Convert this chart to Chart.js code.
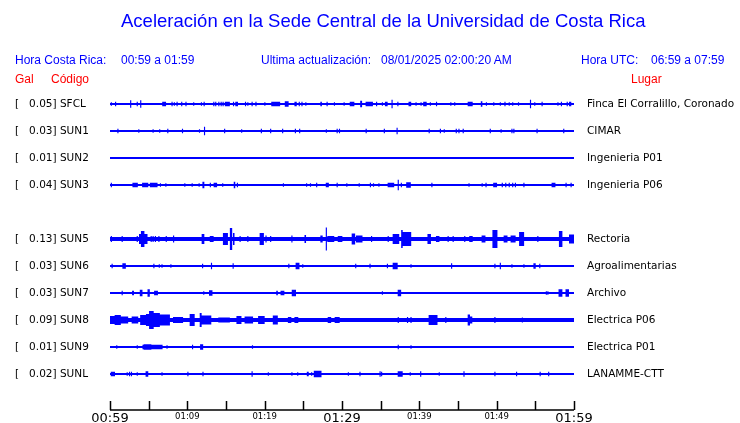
<!DOCTYPE html>
<html>
<head>
<meta charset="utf-8">
<script src="https://cdn.jsdelivr.net/npm/chart.js@4.4.0/dist/chart.umd.min.js"></script>
<style>
body { margin: 0; background: #fff; }
#wrap { position: relative; width: 740px; height: 423px; overflow: hidden; }
#chart { position: absolute; left: 0; top: 0; }
.t { position: absolute; white-space: pre; font-family: "Liberation Sans", Arial, sans-serif; font-size: 12px; line-height: 1; color: #0000ff; }
.r { color: #ff0000; }
</style>
</head>
<body>
<div id="wrap">
<canvas id="chart" width="740" height="423"></canvas>
<div class="t" style="left:121px;top:12px;font-size:18.5px">Aceleración en la Sede Central de la Universidad de Costa Rica</div>
<div class="t" style="left:15px;top:54px">Hora Costa Rica:</div>
<div class="t" style="left:121px;top:54px">00:59 a 01:59</div>
<div class="t" style="left:261px;top:54px">Ultima actualización:</div>
<div class="t" style="left:381px;top:54px">08/01/2025 02:00:20 AM</div>
<div class="t" style="left:581px;top:54px">Hora UTC:</div>
<div class="t" style="left:651px;top:54px">06:59 a 07:59</div>
<div class="t r" style="left:15px;top:73px">Gal</div>
<div class="t r" style="left:51px;top:73px">Código</div>
<div class="t r" style="left:631px;top:73px">Lugar</div>
</div>
<script>
// stations, top to bottom (row 4 is empty in the original)
const codes = ['SFCL', 'SUN1', 'SUN2', 'SUN3', 'SUN5', 'SUN6', 'SUN7', 'SUN8', 'SUN9', 'SUNL'];
const places = ['Finca El Corralillo, Coronado', 'CIMAR', 'Ingenieria P01', 'Ingenieria P06', 'Rectoria',
  'Agroalimentarias', 'Archivo', 'Electrica P06', 'Electrica P01', 'LANAMME-CTT'];
const galValues = [0.05, 0.03, 0.01, 0.04, 0.13, 0.03, 0.03, 0.09, 0.01, 0.02];
const rows = [0, 1, 2, 3, 5, 6, 7, 8, 9, 10];
const timeLabels = ['00:59', '01:09', '01:19', '01:29', '01:39', '01:49', '01:59'];
// continuous background noise amplitude of each trace
const noise = [0, 0, 0, 0, 2, 0, 0, 2, 0, 0];

// bursts: [minute after 00:59, amplitude, duration in minutes (default 0.15)]
const burstsSFCL = [[0.1,1],[0.65,1.5],[2.6,3],[3.45,1.5],[3.9,3],[6.75,1.5,0.5],[7.95,1.5],[8.25,1],[8.6,1.5],[9.2,1.5],[9.75,1.5],[10.75,1],[11.75,1],[12.1,1.5],[13.35,1.5],[13.6,1.5],[14.0,1.5],[14.3,1.5],[14.55,1.5],[14.85,1.5,0.65],[15.9,1.5],[16.2,1.5,0.35],[17.45,1.5],[17.75,1],[18.3,1.5],[18.8,1.5],[19.95,1],[20.85,1.5,1.15],[22.6,2,0.5],[23.85,1.5,0.3],[24.4,1.5],[24.75,1.5],[25.25,1],[27.2,1.5,0.2],[28.0,1.5],[28.95,1],[30.2,1],[31.0,1.5,0.6],[32.35,2.5,0.25],[33.05,1.5,0.95],[34.4,1.5],[35.15,1],[35.55,1.5,0.35],[36.4,3.5],[37.15,1.5],[38.6,1.5,0.35],[39.5,1],[40.15,1],[40.5,1.5,0.45],[41.35,1],[42.15,1.5],[44.0,1],[44.5,1],[46.25,1.5,0.65],[47.95,2,0.2],[48.6,1],[49.55,1],[50.4,1],[51.0,1.5],[51.55,1],[52.0,1],[52.75,1],[54.3,3.5],[54.85,1],[55.8,1.5],[57.85,1],[58.3,1.5],[59.05,1.5],[59.35,1.5,0.3]];
const burstsSUN1 = [[0.95,1.5],[3.65,1],[5.5,1],[6.35,1],[7.4,1.5],[9.3,1.5],[11.5,1],[12.15,3.5],[14.75,1.5],[16.95,1],[19.5,1.5],[20.7,1.5],[22.25,1.5],[23.9,1.5],[24.45,1.5],[27.9,1],[29.3,1.5],[29.6,1.5],[33.05,1.5],[35.4,1.5],[37.05,2.5],[41.2,1.5],[42.65,1.5],[43.15,1],[44.7,1.5],[45.05,1.5],[45.6,1.5],[49.1,1.5],[50.5,1],[51.9,1.5],[52.15,1.5],[55.15,1.5],[58.6,1.5]];
const burstsSUN2 = [];
const burstsSUN3 = [[0.1,1.5],[2.9,1.5,0.7],[4.15,1.5,0.8],[5.15,1.5,1.0],[6.45,1],[7.15,1],[9.6,1],[10.55,1],[11.45,1],[11.95,2.5,0.25],[12.9,1.5],[13.4,1.5,0.45],[14.5,1],[16.0,2.5,0.2],[16.4,1.5],[22.35,1],[25.35,1],[25.85,1],[26.65,1.5],[27.9,1.5,0.4],[29.3,1.5],[30.55,1],[32.15,1],[33.6,1.5],[34.0,1],[34.7,1],[35.9,1.5,0.85],[37.2,4.5],[37.6,1.5],[38.3,2,0.6],[41.55,1.5],[46.35,1],[48.05,1],[48.55,1.5],[49.55,1.5,0.5],[50.65,1.5],[51.1,1.5],[51.55,1.5],[52.0,1.5],[52.35,1.5],[53.45,1.5],[57.1,1.5,0.5],[58.9,1.5],[59.55,1.5]];
const burstsSUN5 = [[0.1,3],[1.5,3],[3.45,3],[3.75,5,0.25],[4.0,8,0.45],[4.45,5,0.4],[5.25,3],[5.5,3],[5.8,3],[6.25,3],[7.2,3],[8.15,3.5],[11.85,5,0.35],[12.9,3,0.5],[14.6,6,0.65],[15.5,11,0.3],[15.9,6,0.2],[16.75,3],[17.75,3],[19.35,6,0.55],[20.1,3.5],[20.7,3],[23.45,3.5],[25.15,4,0.2],[27.2,3.5,0.3],[27.9,11.5],[28.1,3,0.9],[29.45,3,0.45],[29.9,3],[31.25,5.5,0.45],[31.8,3.5,0.85],[33.75,3],[35.9,3],[36.55,5,0.85],[37.65,9,0.2],[37.85,7,1.1],[41.05,5,0.45],[42.15,3,0.45],[43.65,3],[44.3,3],[45.8,3],[46.45,3,0.45],[48.05,3.5,0.5],[49.45,9,0.65],[50.9,3.5,0.5],[51.8,3.5,0.65],[52.9,7,0.65],[55.25,3],[58.05,8,0.45],[59.35,4.5,0.65]];
const burstsSUN6 = [[0.2,1.5],[1.6,2,0.45],[5.6,1.5],[6.3,1],[6.65,1],[7.8,1],[11.9,1.5],[13.05,2.5],[15.85,2],[23.05,1.5],[24.0,2.5,0.5],[24.85,1],[31.7,1.5],[33.55,1.5],[35.8,1.5],[36.55,2.5,0.65],[38.85,1],[44.1,2],[49.7,1.5],[50.4,2.5],[51.9,1],[53.45,1],[54.75,2,0.3],[55.5,1.5]];
const burstsSUN7 = [[1.5,1.5],[2.85,1.5,0.25],[3.85,2.5,0.35],[4.85,3,0.3],[5.7,1.5,0.5],[12.05,1],[12.8,2,0.45],[21.5,1.5,0.2],[22.05,1.5,0.5],[23.5,2.5,0.55],[35.15,1],[37.2,2.5,0.45],[56.35,1],[56.55,1],[58.0,3,0.5],[58.9,3,0.45]];
const burstsSUN8 = [[0.0,4,0.6],[0.6,5,0.8],[1.4,3.5,0.95],[2.8,3.5,0.85],[3.9,5,0.75],[4.65,6,0.4],[5.05,9,0.6],[5.65,7,0.8],[6.45,5.5,1.3],[8.15,3,1.3],[10.3,6,0.65],[11.6,7,0.25],[11.85,4.5,1.25],[14.0,2.5,1.5],[16.35,4,0.65],[17.4,3.5,1.1],[19.15,4,0.85],[21.05,4.5,0.65],[23.0,3,0.45],[23.85,3,0.5],[28.15,3,0.45],[29.05,3,0.65],[37.2,3],[38.4,3],[38.85,3],[41.2,5,1.15],[43.35,3],[46.25,5.5,0.3],[46.55,3.5,0.3],[49.7,3],[53.25,2.5]];
const burstsSUN9 = [[0.8,1],[3.45,1],[4.2,1.5,0.15],[4.35,2,1.0],[5.35,1.5,1.45],[7.3,1],[10.6,1.5],[11.65,2,0.4],[18.35,1],[37.2,1.5],[38.85,1]];
const burstsSUNL = [[0.1,1.5,0.55],[2.15,1],[2.45,1.5],[2.7,1.5],[3.45,1],[4.6,2,0.35],[6.65,1],[10.0,1.5],[11.95,1.5],[18.3,2],[20.4,1],[23.45,1],[24.2,1],[25.45,1.5,0.25],[26.0,1],[26.35,2.5,1.0],[30.75,1],[32.25,1.5],[34.85,2],[35.05,1.5],[37.2,2,0.65],[38.75,1],[40.1,2],[42.5,1],[45.7,2],[49.7,1.5],[52.5,1.5],[55.55,1.5],[56.65,1.5]];
const bursts = [burstsSFCL, burstsSUN1, burstsSUN2, burstsSUN3, burstsSUN5, burstsSUN6, burstsSUN7, burstsSUN8, burstsSUN9, burstsSUNL];

const AMP_PER_ROW = 27;
const TRACE = '#0000ff';

// step envelope of a trace on one side of its baseline
function envelope(list, row, sign, lift) {
    const pts = [{ x: 0, y: row }];
    const s = list.slice().sort((a, b) => a[0] - b[0]);
    s.forEach((b, k) => {
        const next = k + 1 < s.length ? s[k + 1][0] : 60;
        const end = Math.min(b[0] + (b[2] || 0.15), next);
        pts.push({ x: b[0], y: row + sign * (b[1] + lift) / AMP_PER_ROW });
        if (end < next) pts.push({ x: end, y: row });
    });
    pts.push({ x: 60, y: row });
    return pts;
}

const datasets = [];
codes.forEach((code, i) => {
    const row = rows[i];
    datasets.push({
        data: [{ x: 0, y: row }, { x: 60, y: row }],
        borderColor: TRACE, borderWidth: noise[i] ? noise[i] * 2 : 2, fill: false
    });
    // quiet traces: burst amplitude is measured above the 2px base line
    const lift = noise[i] ? 0 : 0.8;
    [-1, 1].forEach(sign => {
        datasets.push({
            data: envelope(bursts[i], row, sign, lift),
            stepped: true, borderWidth: 0, borderColor: 'rgba(0,0,0,0)',
            backgroundColor: TRACE, fill: { value: row }
        });
    });
});

// time axis below the traces: base line, upward ticks every 5 min, labels every 10 min
const timeAxis = {
    id: 'timeAxis',
    afterDraw(chart) {
        const { ctx, chartArea, scales } = chart;
        const x = scales.x;
        const y0 = chartArea.bottom;
        ctx.save();
        ctx.strokeStyle = '#000';
        ctx.lineWidth = 1.5;
        ctx.beginPath();
        ctx.moveTo(x.getPixelForValue(0), y0);
        ctx.lineTo(x.getPixelForValue(60), y0);
        for (let m = 0; m <= 60; m += 5) {
            const px = Math.round(x.getPixelForValue(m)) + 0.5;
            ctx.moveTo(px, y0);
            ctx.lineTo(px, y0 - 9);
        }
        ctx.stroke();
        ctx.fillStyle = '#000';
        ctx.textAlign = 'center';
        ctx.textBaseline = 'alphabetic';
        timeLabels.forEach((lab, k) => {
            const big = k % 3 === 0;
            ctx.font = (big ? 13 : 8.5) + 'px "DejaVu Sans"';
            ctx.fillText(lab, x.getPixelForValue(k * 10), big ? y0 + 12 : y0 + 9);
        });
        ctx.restore();
    }
};

function rowLabel(v) {
    const i = rows.indexOf(v);
    return i < 0 ? '' : '[   ' + galValues[i].toFixed(2) + '] ' + codes[i];
}

// fixed box sizes, and no extra padding from the first/last row labels
function fitSide(w) {
    return s => { s.width = w; s.paddingTop = 0; s.paddingBottom = 0; };
}

new Chart(document.getElementById('chart'), {
    type: 'line',
    data: { datasets },
    options: {
        responsive: false,
        animation: false,
        events: [],
        layout: { padding: { top: 90.5, left: 15, right: 0, bottom: 13 } },
        elements: { point: { radius: 0 } },
        plugins: { legend: { display: false }, tooltip: { enabled: false } },
        scales: {
            x: { type: 'linear', min: 0, max: 60, display: false },
            y: {
                type: 'linear', reverse: true, min: -0.5, max: 11.333, position: 'left',
                grid: { display: false, drawTicks: false }, border: { display: false },
                afterBuildTicks: s => { s.ticks = rows.map(v => ({ value: v })); },
                ticks: { crossAlign: 'far', padding: 0, color: '#000', font: { family: 'DejaVu Sans', size: 10.5 }, callback: rowLabel },
                afterFit: fitSide(95)
            },
            y2: {
                type: 'linear', reverse: true, min: -0.5, max: 11.333, position: 'right',
                grid: { display: false, drawTicks: false }, border: { display: false },
                afterBuildTicks: s => { s.ticks = rows.map(v => ({ value: v })); },
                ticks: { crossAlign: 'near', padding: 13, color: '#000', font: { family: 'DejaVu Sans', size: 10.5 },
                    callback: v => { const i = rows.indexOf(v); return i < 0 ? '' : places[i]; } },
                afterFit: fitSide(166)
            }
        }
    },
    plugins: [timeAxis]
});
</script>
</body>
</html>
